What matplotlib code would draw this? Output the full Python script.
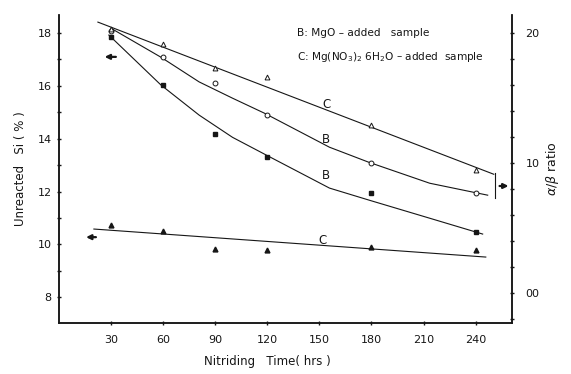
import numpy as np
import matplotlib.pyplot as plt
from matplotlib.ticker import MultipleLocator

# nitriding time (hrs)
time_hrs = [30, 60, 90, 120, 180, 240]

# unreacted Si (%) -> left axis
si_mgo = [17.85, 16.04, 14.19, 13.32, 11.96, 10.45]
si_mgno3 = [10.75, 10.49, 9.81, 9.80, 9.89, 9.77]

# alpha/beta ratio -> right axis
ab_mgo = [20.2, 18.15, 16.2, 13.7, 10.0, 7.7]
ab_mgno3 = [20.3, 19.2, 17.3, 16.6, 12.9, 9.5]

# hand drawn trend curves
fit_si_mgo_x = [28.8, 45.0, 58.8, 80.8, 100.0, 119.4, 155.8, 178.8, 213.5, 244.0]
fit_si_mgo_y = [17.92, 16.90, 16.03, 14.89, 14.05, 13.38, 12.13, 11.67, 10.99, 10.39]
fit_si_mgno3_x = [20.2, 245.8]
fit_si_mgno3_y = [10.58, 9.52]
fit_ab_mgo_x = [30.0, 58.8, 80.8, 100.0, 118.3, 155.8, 178.3, 213.5, 246.9]
fit_ab_mgo_y = [20.38, 18.15, 16.25, 15.00, 13.85, 11.23, 10.08, 8.46, 7.54]
fit_ab_mgno3_x = [22.5, 250.4]
fit_ab_mgno3_y = [20.85, 9.15]

xticks = [30, 60, 90, 120, 150, 180, 210, 240]
left_ticks = [8, 10, 12, 14, 16, 18]
right_ticks = [0, 10, 20]
right_labels = ['00', '10', '20']

ink = '#161616'
lw = 0.8

fig = plt.figure(figsize=(5.71, 3.74), dpi=100)
ax = fig.add_axes([0.103, 0.136, 0.794, 0.824])
ax2 = ax.twinx()

ax.plot(fit_si_mgo_x, fit_si_mgo_y, color=ink, lw=lw)
ax.plot(fit_si_mgno3_x, fit_si_mgno3_y, color=ink, lw=lw)
ax.plot(time_hrs, si_mgo, 's', color=ink, ms=3, ls='none')
ax.plot(time_hrs, si_mgno3, '^', color=ink, ms=3.5, ls='none')

ax2.plot(fit_ab_mgo_x, fit_ab_mgo_y, color=ink, lw=lw)
ax2.plot(fit_ab_mgno3_x, fit_ab_mgno3_y, color=ink, lw=lw)
ax2.plot(time_hrs, ab_mgo, 'o', mfc='white', mec=ink, mew=0.7, ms=3.5, ls='none')
ax2.plot(time_hrs, ab_mgno3, '^', mfc='white', mec=ink, mew=0.7, ms=3.5, ls='none')

ax.set_xlim(0, 261)
ax.set_ylim(7.02, 18.68)
ax2.set_ylim(-2.3, 21.4)

for a in (ax, ax2):
    a.spines['top'].set_visible(False)
    for s in a.spines.values():
        s.set_color(ink)
        s.set_linewidth(1.1)

ax.set_xticks(xticks)
ax.set_yticks(left_ticks)
ax.yaxis.set_minor_locator(MultipleLocator(1))
ax2.set_yticks(right_ticks)
ax2.set_yticklabels(right_labels)
ax2.yaxis.set_minor_locator(MultipleLocator(2))
ax.tick_params(axis='both', which='both', direction='inout', length=3, width=1,
               colors=ink, labelsize=8)
ax.tick_params(axis='x', pad=7)
ax2.tick_params(axis='y', which='both', direction='inout', length=3, width=1,
                colors=ink, labelsize=8, pad=8)

ax.set_xlabel('Nitriding   Time( hrs )', fontsize=8.5, color=ink)
ax.xaxis.set_label_coords(0.46, -0.105)
ax.set_ylabel('Unreacted   Si ( % )', fontsize=8.5, color=ink, labelpad=8)
ax2.set_ylabel(r'$\alpha$/$\beta$ ratio', fontsize=9, color=ink, labelpad=3)

# legend text
ax.text(0.526, 0.943, 'B: MgO \u2013 added   sample', transform=ax.transAxes,
        fontsize=7.6, color=ink, va='center')
ax.text(0.526, 0.865, 'C: Mg(NO$_3$)$_2$ 6H$_2$O \u2013 added  sample',
        transform=ax.transAxes, fontsize=7.6, color=ink, va='center')

# curve labels
ax2.text(154, 14.5, 'C', fontsize=8.5, color=ink, ha='center', va='center')
ax2.text(154, 11.85, 'B', fontsize=8.5, color=ink, ha='center', va='center')
ax.text(154, 12.62, 'B', fontsize=8.5, color=ink, ha='center', va='center')
ax.text(152, 10.16, 'C', fontsize=8.5, color=ink, ha='center', va='center')

# arrows showing which axis each pair belongs to
arr = dict(arrowstyle='-|>', color=ink, lw=1.6, mutation_scale=7)
ax.annotate('', xy=(0.095, 0.864), xytext=(0.132, 0.864),
            xycoords='axes fraction', arrowprops=arr)
ax.annotate('', xy=(0.054, 0.279), xytext=(0.088, 0.279),
            xycoords='axes fraction', arrowprops=arr)
ax.annotate('', xy=(0.998, 0.445), xytext=(0.966, 0.445),
            xycoords='axes fraction', arrowprops=arr)
ax.plot([0.962, 0.962], [0.406, 0.487], color=ink, lw=0.8, transform=ax.transAxes,
        clip_on=False)

fig.savefig('out.png', dpi=100)
